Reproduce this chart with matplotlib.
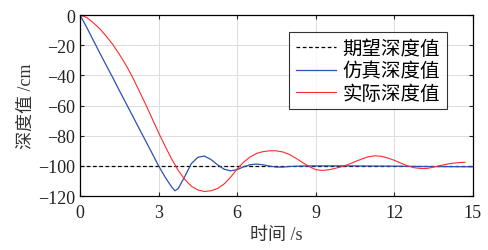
import matplotlib
matplotlib.use("Agg")
import matplotlib.pyplot as plt

plt.rcParams['font.family'] = ['Liberation Serif', 'Noto Sans CJK SC']
plt.rcParams['axes.unicode_minus'] = True

# reference depth
t_ref = [0, 15]
d_ref = [-100, -100]

# simulated depth
t_sim = [0, 0.25, 0.5, 0.75, 1.0, 1.25, 1.5, 1.75, 2.0, 2.25, 2.5, 2.75, 3.0,
         3.25, 3.5, 3.625, 3.75, 4.0, 4.25, 4.5, 4.75, 5.0, 5.25, 5.5, 5.75,
         6.0, 6.25, 6.5, 6.75, 7.0, 7.25, 7.5, 7.75, 8.0, 8.5, 9.0, 10.0,
         11.0, 12.0, 13.0, 14.0, 15.0]
d_sim = [0, -8, -16.5, -25, -33.3, -41.5, -50, -58.3, -66.6, -75, -83.3, -91.6, -100,
         -107.5, -114, -116.5, -115, -107, -98.5, -94.3, -93.5, -95.8, -99.3, -102.2, -103.3,
         -102.5, -100.6, -99.2, -98.8, -99.3, -100.2, -100.8, -100.8, -100.4, -100.1, -100, -100,
         -100.1, -100.2, -100.4, -100.5, -100.6]

# actual depth
t_act = [0, 0.25, 0.5, 0.75, 1.0, 1.25, 1.5, 1.75, 2.0, 2.25, 2.5, 2.75, 3.0,
         3.25, 3.5, 3.75, 4.0, 4.25, 4.5, 4.75, 5.0, 5.25, 5.5, 5.75, 6.0,
         6.25, 6.5, 6.75, 7.0, 7.25, 7.5, 7.75, 8.0, 8.25, 8.5, 8.75, 9.0,
         9.25, 9.5, 9.75, 10.0, 10.25, 10.5, 10.75, 11.0, 11.25, 11.5, 11.75, 12.0,
         12.25, 12.5, 12.75, 13.0, 13.25, 13.5, 13.75, 14.0, 14.25, 14.5, 14.7]
d_act = [0, -1.5, -5, -9, -14, -19.5, -26, -33, -41, -50, -59, -68.5, -78,
         -87, -95.5, -103, -109, -113.5, -116, -117, -116.5, -115, -112, -107.5, -102,
         -97.5, -94, -91.7, -90.5, -90, -90, -90.8, -92.5, -95, -97.8, -100.5, -102.5,
         -103, -102.6, -101.6, -100.5, -99, -97.2, -95.5, -94, -93.3, -93.6, -94.8, -96.3,
         -98.2, -100, -101.2, -101.7, -101.7, -100.8, -99.8, -98.9, -98.2, -97.8, -97.6]

fig = plt.figure(figsize=(4.88, 2.51), dpi=100)
ax = fig.add_axes([0.164, 0.215, 0.805, 0.721])

ax.plot(t_ref, d_ref, color='black', linestyle='--', linewidth=0.9, dashes=(3, 2), label='期望深度值')
ax.plot(t_sim, d_sim, color='#2a52b0', linewidth=0.9, label='仿真深度值')
ax.plot(t_act, d_act, color='#ff2a2a', linewidth=0.8, label='实际深度值')

ax.set_xlim(0, 15)
ax.set_ylim(-120, 0)
ax.set_xticks([0, 3, 6, 9, 12, 15])
ax.set_yticks([0, -20, -40, -60, -80, -100, -120])
ax.grid(True, color='#dddddd', linewidth=0.7)
ax.tick_params(direction='in', length=3, labelsize=13, right=True, top=True, colors='#222222')
ax.tick_params(axis='x', pad=6)
for s in ax.spines.values():
    s.set_linewidth(0.9)

ax.set_xlabel('时间 /s', fontsize=13, color='#333333', labelpad=3)
ax.set_ylabel('深度值 /cm', fontsize=13, color='#333333', labelpad=2)

leg = ax.legend(loc='upper right', bbox_to_anchor=(0.933, 0.905), fontsize=14, frameon=True, fancybox=False,
                edgecolor='black', handlelength=2.1, handletextpad=0.3, borderpad=0.35, labelspacing=0.2,
                borderaxespad=0)
leg.get_frame().set_linewidth(0.8)

fig.savefig('out.png', dpi=100)
